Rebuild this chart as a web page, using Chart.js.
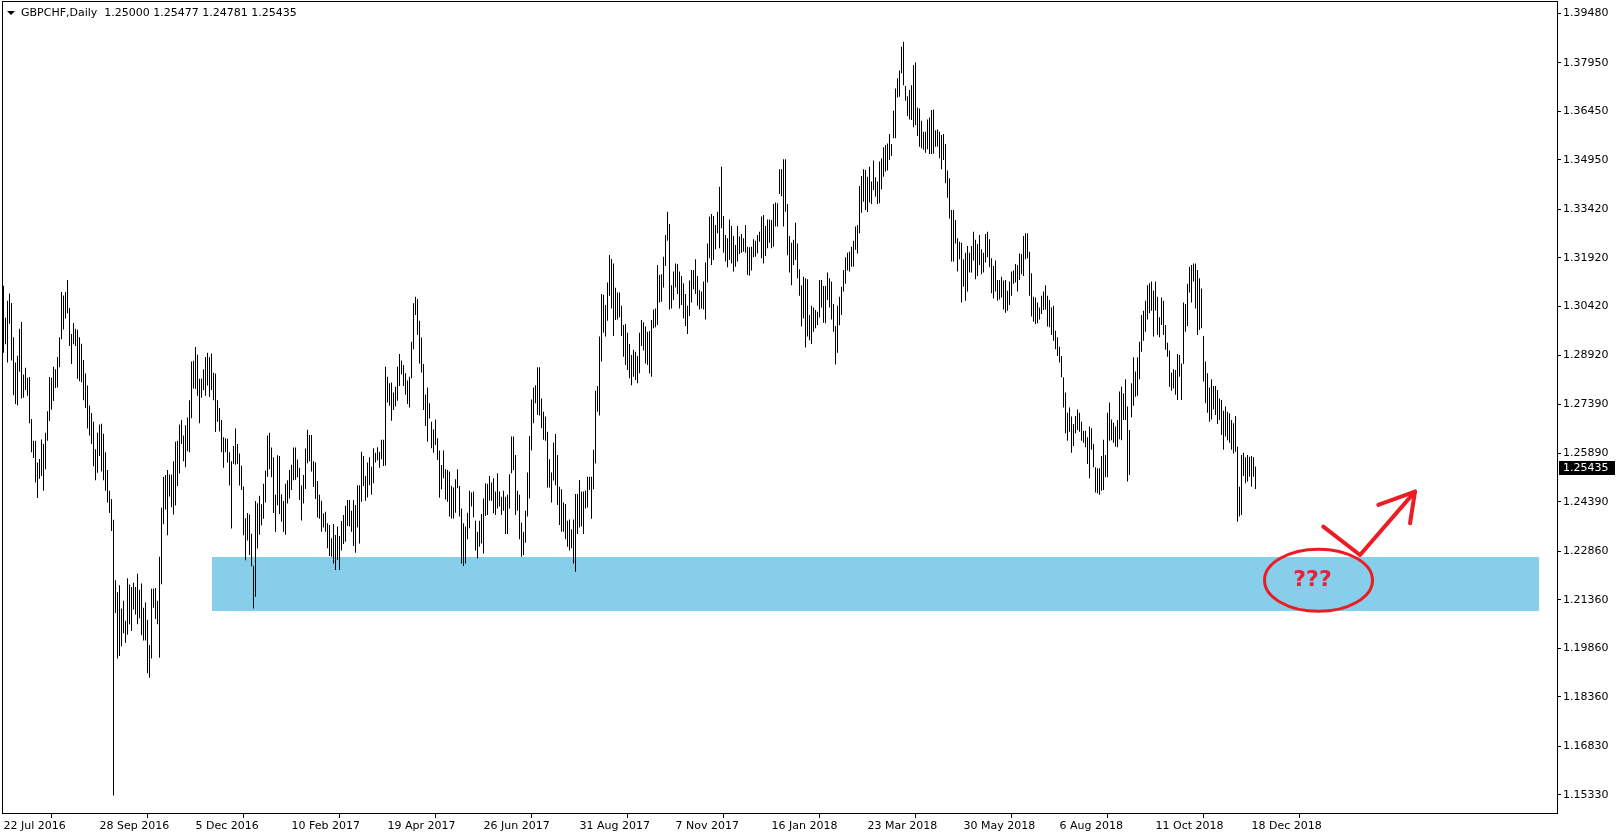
<!DOCTYPE html>
<html lang="en">
<head>
  <meta charset="UTF-8" />
  <title>GBPCHF Daily</title>
  <script src="https://cdn.jsdelivr.net/npm/chart.js"></script>
  <style>
    html, body { margin: 0; padding: 0; background: #fff; }
    canvas { display: block; }
  </style>
</head>
<body>
<canvas id="chart" width="1617" height="838"></canvas>
<script>
  const symbolTitle = "GBPCHF,Daily  1.25000 1.25477 1.24781 1.25435";
  const lastClose = 1.25435;

  // x axis: one tick label every 48 daily bars
  const xTickIndex = [0, 48, 96, 144, 192, 240, 288, 336, 384, 432, 480, 528, 576, 624];
  const xTickLabels = ["22 Jul 2016", "28 Sep 2016", "5 Dec 2016", "10 Feb 2017", "19 Apr 2017",
    "26 Jun 2017", "31 Aug 2017", "7 Nov 2017", "16 Jan 2018", "23 Mar 2018", "30 May 2018",
    "6 Aug 2018", "11 Oct 2018", "18 Dec 2018"];

  const yTicks = [1.39480, 1.37950, 1.36450, 1.34950, 1.33420, 1.31920, 1.30420, 1.28920, 1.27390,
    1.25890, 1.24390, 1.22860, 1.21360, 1.19860, 1.18360, 1.16830, 1.15330];

  // daily highs, one per bar (22 Jul 2016 .. 20 Dec 2018)
  const highs = [
    1.3106, 1.3007, 1.3060, 1.3082, 1.3053, 1.2947, 1.2869, 1.2890, 1.2973, 1.2994,
    1.2832, 1.2853, 1.2822, 1.2824, 1.2694, 1.2627, 1.2627, 1.2560, 1.2571, 1.2631,
    1.2617, 1.2652, 1.2718, 1.2824, 1.2822, 1.2856, 1.2848, 1.2886, 1.2947, 1.3087,
    1.3076, 1.3087, 1.3124, 1.3037, 1.2957, 1.2991, 1.2973, 1.2970, 1.2947, 1.2927,
    1.2877, 1.2835, 1.2798, 1.2736, 1.2713, 1.2686, 1.2601, 1.2652, 1.2677, 1.2680,
    1.2649, 1.2592, 1.2537, 1.2473, 1.2447, 1.2383, 1.2196, 1.2159, 1.2181, 1.2109,
    1.2133, 1.2071, 1.2202, 1.2183, 1.2175, 1.2188, 1.2175, 1.2216, 1.2167, 1.2186,
    1.2111, 1.2127, 1.2074, 1.1996, 1.2170, 1.2170, 1.2172, 1.2133, 1.2269, 1.2420,
    1.2516, 1.2521, 1.2537, 1.2523, 1.2523, 1.2564, 1.2624, 1.2627, 1.2677, 1.2691,
    1.2643, 1.2675, 1.2699, 1.2752, 1.2872, 1.2874, 1.2917, 1.2893, 1.2819, 1.2819,
    1.2848, 1.2886, 1.2899, 1.2885, 1.2897, 1.2837, 1.2835, 1.2752, 1.2728, 1.2691,
    1.2638, 1.2635, 1.2633, 1.2592, 1.2564, 1.2611, 1.2665, 1.2617, 1.2588, 1.2550,
    1.2486, 1.2388, 1.2404, 1.2399, 1.2340, 1.2241, 1.2441, 1.2434, 1.2457, 1.2431,
    1.2494, 1.2535, 1.2643, 1.2652, 1.2606, 1.2576, 1.2460, 1.2582, 1.2580, 1.2462,
    1.2441, 1.2494, 1.2505, 1.2537, 1.2553, 1.2606, 1.2606, 1.2569, 1.2544, 1.2489,
    1.2521, 1.2603, 1.2661, 1.2645, 1.2645, 1.2564, 1.2561, 1.2503, 1.2460,
    1.2442, 1.2403, 1.2408, 1.2372, 1.2367, 1.2326, 1.2370, 1.2336, 1.2362, 1.2333,
    1.2379, 1.2398, 1.2426, 1.2444, 1.2444, 1.2411, 1.2444, 1.2429, 1.2490, 1.2490,
    1.2593, 1.2580, 1.2518, 1.2560, 1.2576, 1.2547, 1.2604, 1.2590, 1.2607, 1.2593,
    1.2630, 1.2630, 1.2856, 1.2825, 1.2805, 1.2807, 1.2776, 1.2794, 1.2856, 1.2895,
    1.2875, 1.2861, 1.2836, 1.2813, 1.2825, 1.2933, 1.3052, 1.3072, 1.3065, 1.2998,
    1.2946, 1.2864, 1.2769, 1.2792, 1.2743, 1.2686, 1.2663, 1.2693, 1.2635, 1.2597,
    1.2552, 1.2597, 1.2539, 1.2537, 1.2532, 1.2487, 1.2483, 1.2508, 1.2539, 1.2487,
    1.2418, 1.2372, 1.2362, 1.2405, 1.2473, 1.2467, 1.2470, 1.2380, 1.2346, 1.2380,
    1.2401, 1.2449, 1.2496, 1.2494, 1.2518, 1.2498, 1.2511, 1.2470, 1.2527, 1.2470,
    1.2454, 1.2473, 1.2454, 1.2460, 1.2524, 1.2640, 1.2640, 1.2583, 1.2473, 1.2460,
    1.2374, 1.2346, 1.2411, 1.2529, 1.2642, 1.2755, 1.2792, 1.2799, 1.2854, 1.2854,
    1.2758, 1.2717, 1.2702, 1.2655, 1.2570, 1.2529, 1.2621, 1.2648, 1.2583, 1.2485,
    1.2477, 1.2436, 1.2432, 1.2380, 1.2384, 1.2354, 1.2384, 1.2463, 1.2463, 1.2506,
    1.2470, 1.2470, 1.2473, 1.2516, 1.2516, 1.2516, 1.2599, 1.2782, 1.2796, 1.2949,
    1.3081, 1.3078, 1.3047, 1.3116, 1.3201, 1.3189, 1.3175, 1.3100, 1.3085, 1.3085,
    1.3044, 1.2985, 1.2988, 1.2961, 1.2926, 1.2892, 1.2908, 1.2902, 1.2889, 1.2961,
    1.3000, 1.2993, 1.2980, 1.2964, 1.2966, 1.3000, 1.3033, 1.3036, 1.3170, 1.3139,
    1.3142, 1.3196, 1.3263, 1.3335, 1.3297, 1.3108, 1.3150, 1.3175, 1.3173, 1.3150,
    1.3136, 1.3114, 1.3081, 1.3044, 1.3122, 1.3155, 1.3155, 1.3188, 1.3136, 1.3093,
    1.3088, 1.3119, 1.3178, 1.3237, 1.3320, 1.3328, 1.3322, 1.3294, 1.3335, 1.3412,
    1.3474, 1.3322, 1.3263, 1.3253, 1.3311, 1.3291, 1.3260, 1.3232, 1.3291, 1.3258,
    1.3266, 1.3253, 1.3294, 1.3227, 1.3225, 1.3227, 1.3250, 1.3245, 1.3263, 1.3273,
    1.3320, 1.3325, 1.3291, 1.3311, 1.3311, 1.3309, 1.3359, 1.3363, 1.3361, 1.3466,
    1.3466, 1.3497, 1.3497, 1.3359, 1.3260, 1.3239, 1.3248, 1.3301, 1.3237, 1.3157,
    1.3108, 1.3134, 1.3129, 1.3126, 1.3016, 1.3044, 1.3039, 1.3031, 1.3026, 1.3124,
    1.3124, 1.3105, 1.3105, 1.3147, 1.3129, 1.3119, 1.3050, 1.2982, 1.3044, 1.3072,
    1.3103, 1.3155, 1.3194, 1.3208, 1.3211, 1.3227, 1.3245, 1.3289, 1.3294, 1.3414,
    1.3445, 1.3466, 1.3464, 1.3443, 1.3474, 1.3428, 1.3493, 1.3441, 1.3428, 1.3490,
    1.3500, 1.3534, 1.3541, 1.3546, 1.3575, 1.3544, 1.3647, 1.3716, 1.3747, 1.3771,
    1.3845, 1.3860, 1.3723, 1.3692, 1.3711, 1.3726, 1.3788, 1.3796, 1.3657, 1.3654,
    1.3616, 1.3582, 1.3582, 1.3620, 1.3626, 1.3649, 1.3651, 1.3587, 1.3589, 1.3582,
    1.3572, 1.3575, 1.3544, 1.3462, 1.3438, 1.3340,
    1.3340, 1.3309, 1.3253, 1.3242, 1.3239, 1.3188, 1.3208, 1.3229, 1.3208, 1.3229,
    1.3273, 1.3248, 1.3235, 1.3263, 1.3219, 1.3208, 1.3266, 1.3273, 1.3250, 1.3191,
    1.3167, 1.3184, 1.3124, 1.3124, 1.3134, 1.3122, 1.3124, 1.3091, 1.3119, 1.3150,
    1.3153, 1.3173, 1.3170, 1.3206, 1.3204, 1.3260, 1.3268, 1.3268, 1.3211, 1.3145,
    1.3072, 1.3070, 1.3054, 1.3039, 1.3075, 1.3088, 1.3108, 1.3075, 1.3062, 1.3039,
    1.3044, 1.2967, 1.2947, 1.2918, 1.2889, 1.2823, 1.2776, 1.2714, 1.2730, 1.2702,
    1.2679, 1.2704, 1.2724, 1.2714, 1.2686, 1.2658, 1.2658, 1.2638, 1.2671, 1.2666,
    1.2617, 1.2545, 1.2542, 1.2542, 1.2580, 1.2630, 1.2583, 1.2714, 1.2745, 1.2693,
    1.2683, 1.2671, 1.2691, 1.2779, 1.2794, 1.2774, 1.2817, 1.2733, 1.2660, 1.2805,
    1.2885, 1.2841, 1.2885, 1.2933, 1.3016, 1.3029, 1.3060, 1.3108, 1.3114, 1.3119,
    1.3091, 1.3119, 1.3072, 1.3009, 1.3070, 1.3060, 1.2985, 1.2930, 1.2906, 1.2838,
    1.2848, 1.2846, 1.2895, 1.2892, 1.2866, 1.3054, 1.3050, 1.3112, 1.3165, 1.3170,
    1.3175, 1.3175, 1.3155, 1.3129, 1.3098, 1.2951, 1.2872, 1.2836, 1.2792, 1.2817,
    1.2796, 1.2796, 1.2784, 1.2758, 1.2753, 1.2720, 1.2733, 1.2717, 1.2712, 1.2691,
    1.2681, 1.2704, 1.2609, 1.2485, 1.2583, 1.2590, 1.2576, 1.2583, 1.2578, 1.2580,
    1.2576, 1.25477
  ];

  // daily lows, same bars
  const lows = [
    1.2899, 1.2925, 1.2869, 1.2989, 1.2875, 1.2768, 1.2741, 1.2737, 1.2840, 1.2758,
    1.2760, 1.2784, 1.2766, 1.2681, 1.2592, 1.2574, 1.2498, 1.2450, 1.2510, 1.2518,
    1.2473, 1.2539, 1.2627, 1.2688, 1.2723, 1.2750, 1.2790, 1.2792, 1.2854, 1.2941,
    1.2971, 1.3005, 1.3021, 1.2920, 1.2864, 1.2925, 1.2920, 1.2819, 1.2811, 1.2808,
    1.2752, 1.2728, 1.2665, 1.2643, 1.2617, 1.2548, 1.2505, 1.2528, 1.2580, 1.2532,
    1.2505, 1.2473, 1.2436, 1.2404, 1.2348, 1.1531, 1.2095, 1.1954, 1.1962, 1.1992,
    1.2032, 1.2003, 1.2028, 1.2060, 1.2039, 1.2106, 1.2090, 1.2060, 1.2079, 1.2026,
    1.2010, 1.2010, 1.1909, 1.1895, 1.1954, 1.2111, 1.2076, 1.2060, 1.1957, 1.2184,
    1.2369, 1.2415, 1.2335, 1.2455, 1.2422, 1.2399, 1.2427, 1.2487, 1.2526, 1.2617,
    1.2564, 1.2545, 1.2595, 1.2592, 1.2697, 1.2789, 1.2787, 1.2766, 1.2681, 1.2760,
    1.2784, 1.2766, 1.2798, 1.2762, 1.2784, 1.2752, 1.2654, 1.2686, 1.2656, 1.2592,
    1.2544, 1.2592, 1.2560, 1.2489, 1.2356, 1.2556, 1.2553, 1.2555, 1.2489, 1.2475,
    1.2335, 1.2258, 1.2319, 1.2274, 1.2239, 1.2109, 1.2145, 1.2294, 1.2337, 1.2365,
    1.2386, 1.2436, 1.2516, 1.2539, 1.2514, 1.2404, 1.2345, 1.2428, 1.2401, 1.2377,
    1.2345, 1.2337, 1.2433, 1.2449, 1.2475, 1.2505, 1.2507, 1.2514, 1.2444, 1.2381,
    1.2433, 1.2478, 1.2558, 1.2564, 1.2532, 1.2484, 1.2447, 1.2390, 1.2386,
    1.2346, 1.2359, 1.2346, 1.2295, 1.2271, 1.2269, 1.2248, 1.2228, 1.2259, 1.2228,
    1.2288, 1.2308, 1.2315, 1.2364, 1.2362, 1.2346, 1.2302, 1.2281, 1.2359, 1.2310,
    1.2439, 1.2487, 1.2442, 1.2452, 1.2490, 1.2460, 1.2496, 1.2560, 1.2566, 1.2544,
    1.2570, 1.2549, 1.2550, 1.2745, 1.2735, 1.2689, 1.2722, 1.2733, 1.2751, 1.2796,
    1.2833, 1.2796, 1.2769, 1.2741, 1.2730, 1.2820, 1.2910, 1.3016, 1.2954, 1.2866,
    1.2838, 1.2722, 1.2673, 1.2624, 1.2696, 1.2604, 1.2590, 1.2614, 1.2568, 1.2451,
    1.2477, 1.2511, 1.2446, 1.2439, 1.2393, 1.2387, 1.2387, 1.2405, 1.2480, 1.2393,
    1.2248, 1.2240, 1.2248, 1.2323, 1.2357, 1.2424, 1.2391, 1.2288, 1.2264, 1.2300,
    1.2310, 1.2279, 1.2395, 1.2398, 1.2442, 1.2442, 1.2403, 1.2398, 1.2418, 1.2424,
    1.2398, 1.2411, 1.2339, 1.2339, 1.2418, 1.2527, 1.2537, 1.2398, 1.2411, 1.2323,
    1.2269, 1.2274, 1.2312, 1.2393, 1.2449, 1.2597, 1.2681, 1.2743, 1.2707, 1.2705,
    1.2666, 1.2630, 1.2627, 1.2483, 1.2483, 1.2436, 1.2504, 1.2490, 1.2429, 1.2367,
    1.2346, 1.2346, 1.2323, 1.2300, 1.2288, 1.2295, 1.2248, 1.2222, 1.2339, 1.2359,
    1.2362, 1.2339, 1.2418, 1.2421, 1.2475, 1.2386, 1.2477, 1.2557, 1.2717, 1.2705,
    1.2872, 1.2961, 1.2949, 1.2998, 1.3075, 1.3036, 1.2951, 1.3000, 1.3002, 1.3009,
    1.2951, 1.2887, 1.2861, 1.2846, 1.2820, 1.2799, 1.2825, 1.2815, 1.2805, 1.2836,
    1.2920, 1.2906, 1.2866, 1.2861, 1.2836, 1.2825, 1.2975, 1.2978, 1.2985, 1.3054,
    1.3057, 1.3101, 1.3167, 1.3245, 1.3033, 1.3036, 1.3062, 1.3101, 1.3081, 1.3036,
    1.3047, 1.3005, 1.2982, 1.2957, 1.3013, 1.3054, 1.3095, 1.3081, 1.3044, 1.3033,
    1.3036, 1.3033, 1.3002, 1.3116, 1.3191, 1.3170, 1.3186, 1.3219, 1.3268, 1.3222,
    1.3284, 1.3208, 1.3181, 1.3163, 1.3186, 1.3175, 1.3150, 1.3165, 1.3181, 1.3204,
    1.3208, 1.3211, 1.3208, 1.3139, 1.3137, 1.3153, 1.3194, 1.3196, 1.3206, 1.3242,
    1.3191, 1.3175, 1.3198, 1.3222, 1.3239, 1.3222, 1.3227, 1.3289, 1.3289, 1.3390,
    1.3383, 1.3289, 1.3335, 1.3200, 1.3147, 1.3108, 1.3170, 1.3186, 1.3129, 1.3075,
    1.2980, 1.3005, 1.2915, 1.2949, 1.2938, 1.2926, 1.2964, 1.2975, 1.2985, 1.3008,
    1.3039, 1.2992, 1.2990, 1.3062, 1.3039, 1.3002, 1.2964, 1.2863, 1.2899, 1.2984,
    1.3016, 1.3088, 1.3112, 1.3153, 1.3150, 1.3165, 1.3165, 1.3217, 1.3206, 1.3268,
    1.3332, 1.3366, 1.3340, 1.3334, 1.3363, 1.3359, 1.3402, 1.3381, 1.3359, 1.3361,
    1.3404, 1.3443, 1.3459, 1.3462, 1.3495, 1.3507, 1.3562, 1.3562, 1.3688, 1.3690,
    1.3763, 1.3726, 1.3678, 1.3631, 1.3620, 1.3618, 1.3596, 1.3603, 1.3569, 1.3536,
    1.3531, 1.3526, 1.3517, 1.3528, 1.3513, 1.3513, 1.3515, 1.3536, 1.3536, 1.3500,
    1.3466, 1.3495, 1.3423, 1.3378, 1.3314, 1.3181,
    1.3181, 1.3237, 1.3150, 1.3188, 1.3054, 1.3103, 1.3060, 1.3088, 1.3147, 1.3147,
    1.3184, 1.3126, 1.3136, 1.3170, 1.3142, 1.3147, 1.3178, 1.3194, 1.3163, 1.3083,
    1.3067, 1.3088, 1.3060, 1.3064, 1.3070, 1.3033, 1.3023, 1.3029, 1.3047, 1.3075,
    1.3112, 1.3116, 1.3088, 1.3124, 1.3142, 1.3136, 1.3188, 1.3191, 1.3075, 1.3011,
    1.2995, 1.2988, 1.2990, 1.3002, 1.3019, 1.3031, 1.3033, 1.2980, 1.2978, 1.2954,
    1.2936, 1.2910, 1.2889, 1.2869, 1.2823, 1.2730, 1.2650, 1.2627, 1.2655, 1.2590,
    1.2611, 1.2650, 1.2660, 1.2655, 1.2627, 1.2621, 1.2607, 1.2555, 1.2511, 1.2599,
    1.2545, 1.2467, 1.2465, 1.2460, 1.2473, 1.2475, 1.2514, 1.2514, 1.2627, 1.2629,
    1.2621, 1.2609, 1.2607, 1.2632, 1.2629, 1.2691, 1.2691, 1.2501, 1.2521, 1.2700,
    1.2735, 1.2763, 1.2766, 1.2817, 1.2902, 1.2936, 1.2964, 1.3002, 1.3021, 1.3029,
    1.2949, 1.3029, 1.2954, 1.2947, 1.2985, 1.2954, 1.2908, 1.2887, 1.2794, 1.2782,
    1.2789, 1.2769, 1.2753, 1.2825, 1.2753, 1.2864, 1.2964, 1.2982, 1.3085, 1.3054,
    1.3119, 1.3036, 1.2954, 1.2969, 1.2975, 1.2810, 1.2743, 1.2714, 1.2686, 1.2693,
    1.2724, 1.2707, 1.2679, 1.2691, 1.2645, 1.2599, 1.2640, 1.2629, 1.2621, 1.2599,
    1.2588, 1.2593, 1.2377, 1.2393, 1.2398, 1.2518, 1.2496, 1.2501, 1.2516, 1.2485,
    1.2516, 1.24781
  ];

  // support zone drawn on the chart (bar index range, price range)
  const zone = { from: 104.25, to: 767.75, top: 1.2268, bottom: 1.2101 };

  // hand drawn markup (bar index / price)
  const circleMark = { x: 657.5, y: 1.2196, rx: 27, ry: 0.0096, text: "???" };
  const arrowLine = [{ x: 659.9, y: 1.2362 }, { x: 678.25, y: 1.2274 }, { x: 705.75, y: 1.2470 }];
  const arrowHead = [{ x: 687.4, y: 1.2429 }, { x: 705.75, y: 1.2470 }, { x: 703.25, y: 1.2372 }];

  if (highs.length !== lows.length) console.error("bar count mismatch", highs.length, lows.length);

  const bars = highs.map((h, i) => ({ x: i, y: [lows[i], h] }));

  Chart.defaults.font.family = "'DejaVu Sans', Tahoma, sans-serif";
  Chart.defaults.font.size = 11;
  Chart.defaults.color = "#000";

  const markRed = "#ED1C24";

  // no extra room for half labels, the frame sits right at the canvas edge
  function noPadding(s) {
    s.paddingTop = 0;
    s.paddingBottom = 0;
    s.paddingLeft = 0;
    s.paddingRight = 0;
  }

  const mtOverlay = {
    id: "mtOverlay",
    beforeDatasetsDraw(chart) {
      const { ctx, scales: { x, y } } = chart;
      const x0 = Math.round(x.getPixelForValue(zone.from));
      const x1 = Math.round(x.getPixelForValue(zone.to));
      const y0 = Math.round(y.getPixelForValue(zone.top));
      const y1 = Math.round(y.getPixelForValue(zone.bottom));
      ctx.save();
      ctx.fillStyle = "#87CEEB";
      ctx.fillRect(x0, y0, x1 - x0, y1 - y0);
      ctx.restore();
    },
    afterDatasetsDraw(chart) {
      const { ctx, scales: { x, y } } = chart;
      const px = p => [x.getPixelForValue(p.x), y.getPixelForValue(p.y)];
      ctx.save();
      ctx.strokeStyle = markRed;
      ctx.lineCap = "round";
      ctx.lineJoin = "round";

      // circle round the zone
      const cx = x.getPixelForValue(circleMark.x);
      const cy = y.getPixelForValue(circleMark.y);
      const rx = x.getPixelForValue(circleMark.x + circleMark.rx) - cx;
      const ry = y.getPixelForValue(circleMark.y - circleMark.ry) - cy;
      ctx.lineWidth = 3;
      ctx.beginPath();
      ctx.ellipse(cx, cy, rx, ry, 0, 0, Math.PI * 2);
      ctx.stroke();

      ctx.fillStyle = "#E8203A";
      ctx.font = "bold 22px 'DejaVu Sans'";
      ctx.textAlign = "center";
      ctx.textBaseline = "middle";
      ctx.fillText(circleMark.text, cx - 6, cy);

      // arrow
      ctx.lineWidth = 4;
      ctx.beginPath();
      arrowLine.forEach((p, i) => { const [a, b] = px(p); i ? ctx.lineTo(a, b) : ctx.moveTo(a, b); });
      ctx.stroke();
      ctx.beginPath();
      arrowHead.forEach((p, i) => { const [a, b] = px(p); i ? ctx.lineTo(a, b) : ctx.moveTo(a, b); });
      ctx.stroke();
      ctx.restore();
    },
    afterDraw(chart) {
      const { ctx, chartArea: area, scales: { y } } = chart;
      ctx.save();
      // frame
      ctx.strokeStyle = "#000";
      ctx.lineWidth = 1;
      ctx.strokeRect(area.left + 0.5, area.top + 0.5, area.right - area.left, area.bottom - area.top);

      // symbol line
      ctx.fillStyle = "#000";
      ctx.beginPath();
      ctx.moveTo(7, 11);
      ctx.lineTo(15, 11);
      ctx.lineTo(11, 15);
      ctx.closePath();
      ctx.fill();
      ctx.font = "11px 'DejaVu Sans'";
      ctx.textBaseline = "middle";
      ctx.textAlign = "left";
      ctx.fillText(symbolTitle, 21, 13);

      // last price box on the axis
      const yp = Math.round(y.getPixelForValue(lastClose));
      ctx.fillRect(area.right + 2, yp - 7, 56, 14);
      ctx.fillStyle = "#fff";
      ctx.fillText(lastClose.toFixed(5), area.right + 6, yp + 0.5);
      ctx.restore();
    }
  };

  new Chart(document.getElementById("chart"), {
    type: "bar",
    data: {
      datasets: [{
        data: bars,
        backgroundColor: "#000",
        borderWidth: 0,
        inflateAmount: 0,
        barThickness: 1,
        grouped: false
      }]
    },
    options: {
      responsive: false,
      animation: false,
      layout: { padding: { left: 2, top: 1, right: 0, bottom: 0 } },
      plugins: { legend: { display: false }, tooltip: { enabled: false } },
      scales: {
        x: {
          type: "linear",
          offset: false,
          min: -0.75,
          max: 776.75,
          afterFit: s => { s.height = 25; noPadding(s); },
          afterBuildTicks: s => { s.ticks = xTickIndex.map(v => ({ value: v })); },
          grid: { drawOnChartArea: false, drawTicks: true, tickLength: 5, color: "#000" },
          border: { display: false },
          ticks: {
            align: "start",
            autoSkip: false,
            maxRotation: 0,
            minRotation: 0,
            padding: 2,
            callback: v => xTickLabels[xTickIndex.indexOf(v)]
          }
        },
        y: {
          type: "linear",
          position: "right",
          min: 1.14769,
          max: 1.39860,
          afterFit: s => { s.width = 60; noPadding(s); },
          afterBuildTicks: s => { s.ticks = yTicks.map(v => ({ value: v })); },
          grid: { drawOnChartArea: false, drawTicks: true, tickLength: 4, color: "#000" },
          border: { display: false },
          ticks: { padding: 2, callback: v => v.toFixed(5) }
        }
      }
    },
    plugins: [mtOverlay]
  });
</script>
</body>
</html>
